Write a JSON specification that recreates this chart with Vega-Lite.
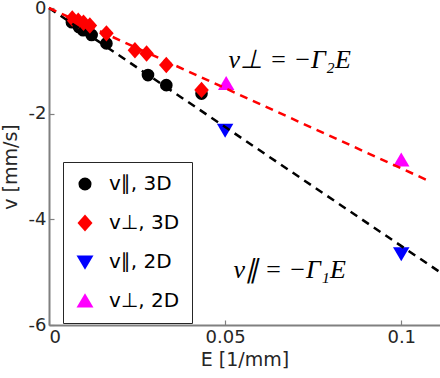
{
  "$schema": "https://vega.github.io/schema/vega-lite/v6.json",
  "width": 391,
  "height": 317,
  "autosize": {"type": "none"},
  "padding": {"left": 49, "top": 8, "right": 0, "bottom": 53},
  "background": "white",
  "config": {
    "view": {"stroke": null},
    "font": "DejaVu Sans",
    "axis": {
      "domainColor": "#808080",
      "domainWidth": 2,
      "tickColor": "#808080",
      "tickWidth": 1.2,
      "tickSize": -5,
      "grid": false,
      "labelColor": "#262626",
      "titleColor": "#262626",
      "labelFontSize": 18,
      "titleFontSize": 19,
      "titleFontWeight": "normal",
      "labelFont": "DejaVu Sans",
      "titleFont": "DejaVu Sans"
    }
  },
  "datasets": {
    "pts": [
      {"E": 0.0065, "v": -0.27, "series": "v∥, 3D"},
      {"E": 0.0085, "v": -0.36, "series": "v∥, 3D"},
      {"E": 0.0097, "v": -0.42, "series": "v∥, 3D"},
      {"E": 0.0121, "v": -0.51, "series": "v∥, 3D"},
      {"E": 0.0163, "v": -0.67, "series": "v∥, 3D"},
      {"E": 0.0281, "v": -1.27, "series": "v∥, 3D"},
      {"E": 0.0333, "v": -1.46, "series": "v∥, 3D"},
      {"E": 0.0433, "v": -1.62, "series": "v∥, 3D"},
      {"E": 0.0066, "v": -0.2, "series": "v⊥, 3D"},
      {"E": 0.0083, "v": -0.24, "series": "v⊥, 3D"},
      {"E": 0.0098, "v": -0.28, "series": "v⊥, 3D"},
      {"E": 0.0116, "v": -0.33, "series": "v⊥, 3D"},
      {"E": 0.0163, "v": -0.48, "series": "v⊥, 3D"},
      {"E": 0.0244, "v": -0.8, "series": "v⊥, 3D"},
      {"E": 0.0277, "v": -0.86, "series": "v⊥, 3D"},
      {"E": 0.0333, "v": -1.08, "series": "v⊥, 3D"},
      {"E": 0.0433, "v": -1.55, "series": "v⊥, 3D"},
      {"E": 0.05, "v": -2.31, "series": "v∥, 2D"},
      {"E": 0.1, "v": -4.65, "series": "v∥, 2D"},
      {"E": 0.0503, "v": -1.43, "series": "v⊥, 2D"},
      {"E": 0.1, "v": -2.88, "series": "v⊥, 2D"}
    ],
    "fits": [
      {"E": 0, "v": 0, "fit": "par"},
      {"E": 0.111, "v": -5.0, "fit": "par"},
      {"E": 0, "v": 0, "fit": "perp"},
      {"E": 0.1074, "v": -3.26, "fit": "perp"}
    ],
    "notes": [
      {"E": 0.0683, "v": -0.99, "label": "v⊥ = −Γ₂E"},
      {"E": 0.0683, "v": -4.96, "label": "v∥ = −Γ₁E"}
    ]
  },
  "encoding": {
    "x": {
      "field": "E", "type": "quantitative",
      "scale": {"domain": [0, 0.111], "nice": false, "zero": false},
      "axis": {"values": [0, 0.05, 0.1], "labelExpr": "'' + datum.value", "title": "E [1/mm]", "labelPadding": 8, "titlePadding": 4}
    },
    "y": {
      "field": "v", "type": "quantitative",
      "scale": {"domain": [-6, 0], "nice": false},
      "axis": {"values": [-6, -4, -2, 0], "labelExpr": "'' + datum.value", "title": "v [mm/s]", "labelPadding": 8, "titlePadding": 8}
    }
  },
  "layer": [
    {
      "data": {"name": "pts"},
      "mark": {"type": "point", "filled": true, "opacity": 1, "size": 160},
      "encoding": {
        "shape": {
          "field": "series", "type": "nominal",
          "scale": {
            "domain": ["v∥, 3D", "v⊥, 3D", "v∥, 2D", "v⊥, 2D"],
            "range": ["circle", "M-1.15,0L0,-1.3L1.15,0L0,1.3Z", "M-1.3,-1L1.3,-1L0,1.2Z", "M-1.3,1L1.3,1L0,-1.2Z"]
          },
          "legend": {
            "title": null,
            "orient": "none",
            "legendX": 14,
            "legendY": 154,
            "strokeColor": "#262626",
            "fillColor": "white",
            "padding": 12,
            "labelFontSize": 20,
            "labelColor": "#000000",
            "labelFont": "DejaVu Sans",
            "labelOffset": 14,
            "symbolSize": 170,
            "rowPadding": 19,
            "symbolOpacity": 1,
            "symbolStrokeWidth": 0
          }
        },
        "color": {
          "field": "series", "type": "nominal",
          "scale": {
            "domain": ["v∥, 3D", "v⊥, 3D", "v∥, 2D", "v⊥, 2D"],
            "range": ["#000000", "#ff0000", "#0000ff", "#ff00ff"]
          },
          "legend": {
            "title": null,
            "orient": "none",
            "legendX": 14,
            "legendY": 154,
            "strokeColor": "#262626",
            "fillColor": "white",
            "padding": 12,
            "labelFontSize": 20,
            "labelColor": "#000000",
            "labelFont": "DejaVu Sans",
            "labelOffset": 14,
            "symbolSize": 170,
            "rowPadding": 19,
            "symbolOpacity": 1,
            "symbolStrokeWidth": 0
          }
        },
        "order": {"field": "series", "sort": "ascending"}
      }
    },
    {
      "data": {"name": "fits"},
      "transform": [{"filter": "datum.fit == 'par'"}],
      "mark": {"type": "line", "color": "#000000", "strokeWidth": 2.5, "strokeDash": [8, 6]},
      "encoding": {}
    },
    {
      "data": {"name": "fits"},
      "transform": [{"filter": "datum.fit == 'perp'"}],
      "mark": {"type": "line", "color": "#ff0000", "strokeWidth": 2.5, "strokeDash": [8, 6]},
      "encoding": {}
    },
    {
      "data": {"name": "notes"},
      "mark": {"type": "text", "font": "Liberation Serif", "fontStyle": "italic", "fontSize": 26, "color": "#000000"},
      "encoding": {"text": {"field": "label"}}
    }
  ]
}
